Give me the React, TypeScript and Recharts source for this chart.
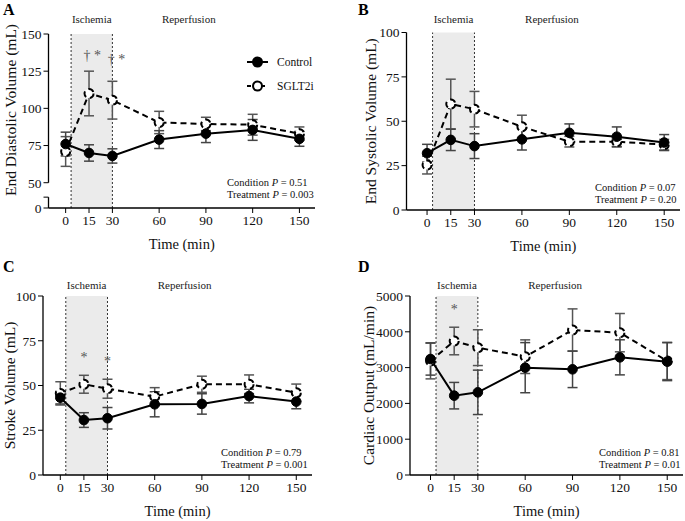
import {
  LineChart,
  Line,
  XAxis,
  YAxis,
  ErrorBar,
  ReferenceArea,
  ReferenceLine,
  ReferenceDot,
  Legend,
} from "recharts";

const FONT = '"Liberation Serif", "Times New Roman", serif';

// time points (min)
const times = [0, 15, 30, 60, 90, 120, 150];

// A – end diastolic volume (mL)
const edvControl = [76, 70, 68, 79, 83, 85.5, 79.5];
const edvControlErr = [8, 5.5, 4.8, 6, 6, 7, 5];
const edvSglt = [71, 110, 105.5, 90.5, 89.5, 89, 83];
const edvSgltErr = [10, 15, 12.7, 7.5, 4.5, 7, 4.5];

// B – end systolic volume (mL)
const esvControl = [32, 39.5, 36, 39.8, 43.5, 41.3, 38];
const esvControlErr = [5, 6, 7, 6, 5, 5.5, 4.5];
const esvSglt = [25.3, 59.7, 56.8, 46.9, 38.5, 38.5, 36.8];
const esvSgltErr = [5, 14, 10, 6.5, 3, 3, 3];

// C – stroke volume (mL)
const svControl = [43.2, 30.7, 31.7, 39.5, 39.7, 44.1, 41];
const svControlErr = [3.5, 4.1, 6, 7, 5.7, 3.8, 4];
const svSglt = [45.6, 50.7, 48.2, 43.8, 50.7, 50.7, 46];
const svSgltErr = [6.5, 5, 5.3, 5, 4.5, 5.2, 4.8];

// D – cardiac output (mL/min)
const coControl = [3240, 2216, 2309, 2998, 2952, 3287, 3166];
const coControlErr = [450, 370, 620, 700, 510, 490, 530];
const coSglt = [3185, 3743, 3557, 3305, 4050, 3976, 3185];
const coSgltErr = [500, 385, 500, 470, 590, 535, 520];

// significance marks
const edvSig = [
  { t: 17, y: 136, text: "† *" },
  { t: 32.7, y: 133, text: "† *" },
];
const svSig = [
  { t: 15, y: 65.7, text: "*" },
  { t: 30, y: 63.7, text: "*" },
];
const coSig = [{ t: 15, y: 4630, text: "*" }];

const conditionP = ["0.51", "0.07", "0.79", "0.81"];
const treatmentP = ["0.003", "0.20", "0.001", "0.01"];

const ISCHEMIA_START = 3.5;
const ISCHEMIA_END = 30;
const REPERFUSION_LABEL_AT = 79;

const buildData = (c: number[], ce: number[], s: number[], se: number[]) =>
  times.map((t, i) => ({
    t,
    control: c[i],
    controlErr: ce[i],
    sglt: s[i],
    sgltErr: se[i],
  }));

const LegendBox = () => (
  <div style={{ fontFamily: FONT, fontSize: 11.5, color: "#111" }}>
    {[
      { name: "Control", fill: "#000", dash: undefined },
      { name: "SGLT2i", fill: "#fff", dash: "4 3" },
    ].map((s) => (
      <div
        key={s.name}
        style={{ display: "flex", alignItems: "center", height: 24 }}
      >
        <svg width={24} height={14}>
          <line
            x1={1}
            y1={7}
            x2={22}
            y2={7}
            stroke="#000"
            strokeWidth={2}
            strokeDasharray={s.dash}
          />
          <circle cx={11.5} cy={7} r={4.5} fill={s.fill} stroke="#000" strokeWidth={2} />
        </svg>
        <span style={{ marginLeft: 7 }}>{s.name}</span>
      </div>
    ))}
  </div>
);

type PanelProps = {
  letter: string;
  left: number;
  top: number;
  width: number;
  height: number;
  margin: { top: number; right: number; bottom: number; left: number };
  yWidth: number;
  yLabel: string;
  yLabelX: number;
  yLabelShift?: number;
  yDomain: [number, number];
  yTicks: number[];
  yFormat?: (v: number) => string;
  broken?: boolean;
  xDomain: [number, number];
  headY: number;
  data: ReturnType<typeof buildData>;
  sig: { t: number; y: number; text: string }[];
  legend?: boolean;
};

function Panel(p: PanelProps) {
  const plotTop = p.margin.top;
  const headOffset = plotTop - (p.headY + 3.5);
  const headLabel = (value: string) => ({
    value,
    position: "top" as const,
    offset: headOffset,
    fontSize: 11,
    fill: "#222",
    fontFamily: FONT,
  });

  return (
    <div style={{ position: "absolute", left: p.left, top: p.top }}>
      <LineChart width={p.width} height={p.height} data={p.data} margin={p.margin}>
        <XAxis
          type="number"
          dataKey="t"
          domain={p.xDomain}
          ticks={times}
          interval={0}
          allowDataOverflow
          tickSize={5}
          height={41}
          axisLine={{ stroke: "#000", strokeWidth: 1.3 }}
          tickLine={{ stroke: "#000" }}
          tick={{ fontSize: 13.5, fill: "#111", fontFamily: FONT }}
          label={{
            value: "Time (min)",
            position: "insideBottom",
            offset: 0,
            fontSize: 14.5,
            fill: "#111",
            fontFamily: FONT,
          }}
        />
        <YAxis
          type="number"
          domain={p.yDomain}
          ticks={p.yTicks}
          interval={0}
          allowDataOverflow
          width={p.yWidth}
          tickSize={5}
          tickFormatter={p.yFormat}
          axisLine={p.broken ? false : { stroke: "#000", strokeWidth: 1.3 }}
          tickLine={{ stroke: "#000" }}
          tick={{ fontSize: 13.5, fill: "#111", fontFamily: FONT }}
          label={{
            content: (lp: any) => {
              const vb = lp.viewBox || {};
              const cx = p.yLabelX;
              const cy = vb.y + vb.height / 2 + (p.yLabelShift || 0);
              return (
                <text
                  x={cx}
                  y={cy}
                  transform={`rotate(-90 ${cx} ${cy})`}
                  textAnchor="middle"
                  dominantBaseline="central"
                  fontSize={15.5}
                  fill="#111"
                  fontFamily={FONT}
                >
                  {p.yLabel}
                </text>
              );
            },
          }}
        />
        <ReferenceArea
          x1={ISCHEMIA_START}
          x2={ISCHEMIA_END}
          fill="#ebebeb"
          fillOpacity={1}
          stroke="none"
          label={headLabel("Ischemia")}
        />
        <ReferenceLine x={ISCHEMIA_START} stroke="#333" strokeDasharray="2 2" />
        <ReferenceLine x={ISCHEMIA_END} stroke="#333" strokeDasharray="2 2" />
        <ReferenceLine
          x={REPERFUSION_LABEL_AT}
          stroke="none"
          label={headLabel("Reperfusion")}
        />
        {p.broken && (
          <ReferenceLine
            segment={[
              { x: p.xDomain[0], y: 50 },
              { x: p.xDomain[0], y: p.yDomain[1] },
            ]}
            stroke="#000"
            strokeWidth={1.3}
          />
        )}
        {p.broken && (
          <ReferenceLine
            segment={[
              { x: p.xDomain[0], y: p.yDomain[0] },
              { x: p.xDomain[0], y: p.yTicks[1] },
            ]}
            stroke="#000"
            strokeWidth={1.3}
          />
        )}
        <Line
          dataKey="sglt"
          type="linear"
          stroke="#000"
          strokeWidth={2}
          strokeDasharray="6 4"
          dot={{ r: 4.5, fill: "#fff", stroke: "#000", strokeWidth: 2 }}
          isAnimationActive={false}
        >
          <ErrorBar dataKey="sgltErr" width={5} stroke="#555" strokeWidth={1.5} direction="y" />
        </Line>
        <Line
          dataKey="control"
          type="linear"
          stroke="#000"
          strokeWidth={2}
          dot={{ r: 4.8, fill: "#000", stroke: "#000", strokeWidth: 1 }}
          isAnimationActive={false}
        >
          <ErrorBar dataKey="controlErr" width={5} stroke="#444" strokeWidth={1.5} direction="y" />
        </Line>
        {p.sig.map((s, i) => (
          <ReferenceDot
            key={i}
            x={s.t}
            y={s.y}
            r={0}
            fill="none"
            stroke="none"
            label={{
              value: s.text,
              position: "center",
              fontSize: 14,
              fill: "#555",
              fontFamily: FONT,
            }}
          />
        ))}
        {p.legend && (
          <Legend
            layout="horizontal"
            verticalAlign="middle"
            align="center"
            content={() => <LegendBox />}
            wrapperStyle={{ position: "absolute", left: 246, top: 50, width: 90 }}
          />
        )}
      </LineChart>
    </div>
  );
}

const pStyle = (left: number, top: number): React.CSSProperties => ({
  position: "absolute",
  left,
  top,
  fontFamily: FONT,
  fontSize: 10.5,
  lineHeight: "12.3px",
  color: "#111",
  whiteSpace: "nowrap",
});

const letterStyle = (left: number, top: number): React.CSSProperties => ({
  position: "absolute",
  left,
  top,
  fontFamily: FONT,
  fontSize: 16,
  fontWeight: "bold",
  lineHeight: "16px",
  color: "#000",
});

export default function App() {
  const panels: PanelProps[] = [
    {
      letter: "A",
      left: 0,
      top: 0,
      width: 340,
      height: 260,
      margin: { top: 34, right: 25, bottom: 11, left: 0 },
      yWidth: 48.5,
      yLabel: "End Diastolic Volume (mL)",
      yLabelX: 10,
      yLabelShift: -11,
      yDomain: [33, 150],
      yTicks: [33, 40.3, 50, 75, 100, 125, 150],
      yFormat: (v: number) => (v === 33 ? "0" : v < 45 ? "" : String(v)),
      broken: true,
      xDomain: [-11, 160],
      headY: 19,
      data: buildData(edvControl, edvControlErr, edvSglt, edvSgltErr),
      sig: edvSig,
      legend: true,
    },
    {
      letter: "B",
      left: 340,
      top: 0,
      width: 345,
      height: 260,
      margin: { top: 32.5, right: 5, bottom: 9, left: 0 },
      yWidth: 66.5,
      yLabel: "End Systolic Volume (mL)",
      yLabelX: 30,
      yDomain: [0, 100],
      yTicks: [0, 25, 50, 75, 100],
      xDomain: [-13, 160],
      headY: 19,
      data: buildData(esvControl, esvControlErr, esvSglt, esvSgltErr),
      sig: [],
    },
    {
      letter: "C",
      left: 0,
      top: 260,
      width: 340,
      height: 261,
      margin: { top: 36, right: 28, bottom: 5, left: 0 },
      yWidth: 43,
      yLabel: "Stroke Volume (mL)",
      yLabelX: 9,
      yDomain: [0, 100],
      yTicks: [0, 25, 50, 75, 100],
      xDomain: [-11, 160],
      headY: 25,
      data: buildData(svControl, svControlErr, svSglt, svSgltErr),
      sig: svSig,
    },
    {
      letter: "D",
      left: 340,
      top: 260,
      width: 345,
      height: 261,
      margin: { top: 36, right: 2, bottom: 5, left: 0 },
      yWidth: 70,
      yLabel: "Cardiac Output (mL/min)",
      yLabelX: 28,
      yDomain: [0, 5000],
      yTicks: [0, 1000, 2000, 3000, 4000, 5000],
      xDomain: [-13, 160],
      headY: 25,
      data: buildData(coControl, coControlErr, coSglt, coSgltErr),
      sig: coSig,
    },
  ];

  const letterPos = [
    [3, 2],
    [358, 2],
    [3, 259],
    [358, 259],
  ];
  const pPos = [
    [227, 176.5],
    [595, 181.5],
    [221, 446.5],
    [599, 446.5],
  ];

  return (
    <div
      style={{
        position: "absolute",
        left: 0,
        top: 0,
        width: 685,
        height: 521,
        background: "#fff",
      }}
    >
      {panels.map((p) => (
        <Panel key={p.letter} {...p} />
      ))}
      {panels.map((p, i) => (
        <div key={"l" + i} style={letterStyle(letterPos[i][0], letterPos[i][1])}>
          {p.letter}
        </div>
      ))}
      {panels.map((_, i) => (
        <div key={"p" + i} style={pStyle(pPos[i][0], pPos[i][1])}>
          <div>
            Condition <i>P</i> = {conditionP[i]}
          </div>
          <div>
            Treatment <i>P</i> = {treatmentP[i]}
          </div>
        </div>
      ))}
    </div>
  );
}
